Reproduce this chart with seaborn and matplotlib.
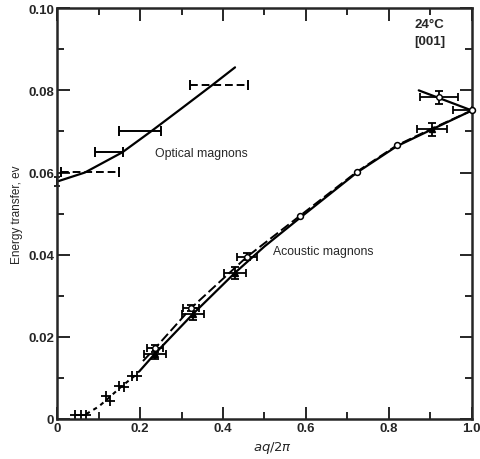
import numpy as np
import pandas as pd
import matplotlib
matplotlib.use("Agg")
import matplotlib.pyplot as plt
import seaborn as sns
from matplotlib.ticker import MultipleLocator

sns.set_style("ticks")
plt.rcParams['font.family'] = ['Liberation Sans', 'DejaVu Sans']

# ---------------- data ----------------
# Optical magnon curve
opt_x = [0.0, 0.067, 0.157, 0.229, 0.30, 0.373, 0.429]
opt_e = [0.0578, 0.0600, 0.0649, 0.0702, 0.0756, 0.0812, 0.0856]
# Optical data (horizontal error bars)
optpt_x = [0.08, 0.125, 0.20, 0.39]
optpt_e = [0.0602, 0.0649, 0.0702, 0.0812]
optpt_xerr = [0.07, 0.033, 0.05, 0.07]

# Acoustic: low-q dotted part
low_x = [0.07, 0.10, 0.123, 0.155, 0.187, 0.20]
low_e = [0.0012, 0.0030, 0.0050, 0.0079, 0.0105, 0.0118]
# small + points
plus_x = [0.043, 0.058, 0.070, 0.118, 0.128, 0.150, 0.161, 0.181, 0.193]
plus_e = [0.0010, 0.0010, 0.0010, 0.0056, 0.0044, 0.0080, 0.0078, 0.0105, 0.0105]

# Acoustic solid curve
sol_x = [0.20, 0.236, 0.328, 0.429, 0.50, 0.586, 0.723, 0.819, 0.904, 1.0]
sol_e = [0.0118, 0.0159, 0.0256, 0.0356, 0.0420, 0.0490, 0.0600, 0.0664, 0.0705, 0.0751]
# Acoustic dashed curve
das_x = [0.207, 0.236, 0.323, 0.458, 0.586, 0.723, 0.819, 0.904, 1.0]
das_e = [0.0141, 0.0172, 0.0270, 0.0395, 0.0495, 0.0602, 0.0666, 0.0707, 0.0751]

# filled points with error bars (solid curve)
fil_x = [0.236, 0.328, 0.429, 0.904]
fil_e = [0.0159, 0.0256, 0.0356, 0.0705]
fil_xerr = [0.027, 0.027, 0.027, 0.036]
fil_yerr = [0.0014, 0.0015, 0.0015, 0.0016]

# open points with error bars (dashed curve)
opn_x = [0.236, 0.323, 0.458, 0.92]
opn_e = [0.0172, 0.0270, 0.0395, 0.0783]
opn_xerr = [0.02, 0.02, 0.025, 0.046]
opn_yerr = [0.0008, 0.0008, 0.0008, 0.0016]
# open points without error bars
circ_x = [0.586, 0.723, 0.819, 1.0]
circ_e = [0.0495, 0.0602, 0.0666, 0.0751]

# upper branch near zone boundary
up_x = [0.872, 1.0]
up_e = [0.0800, 0.0751]

# ---------------- figure ----------------
fig = plt.figure(figsize=(4.8, 4.6), dpi=100)
ax = fig.add_axes([0.119, 0.087, 0.864, 0.893])

k = dict(color='black', legend=False, sort=False, estimator=None, ax=ax)
sns.lineplot(x=opt_x, y=opt_e, lw=1.6, **k)
sns.lineplot(x=low_x, y=low_e, lw=1.5, dashes=False, linestyle=(0, (2, 2)), **k)
sns.lineplot(x=sol_x, y=sol_e, lw=1.6, **k)
sns.lineplot(x=das_x, y=das_e, lw=1.4, linestyle=(0, (5, 2)), **k)
sns.lineplot(x=up_x, y=up_e, lw=1.6, **k)

# optical error bars
for i, (x, e, xe) in enumerate(zip(optpt_x, optpt_e, optpt_xerr)):
    eb = ax.errorbar(x, e, xerr=xe, fmt='none', ecolor='black', elinewidth=1.4,
                     capsize=3.5, capthick=1.4)
    if i in (0, 3):
        eb[2][0].set_linestyle((0, (4, 2)))
# point at q=0
ax.errorbar(0.0, 0.0578, yerr=0.0012, fmt='none', ecolor='black', elinewidth=1.4,
            capsize=2, capthick=1.2, clip_on=False)

# plus points
sns.scatterplot(x=plus_x, y=plus_e, marker='+', s=45, color='black',
                linewidth=1.3, ax=ax, legend=False)

# filled points
ax.errorbar(fil_x, fil_e, xerr=fil_xerr, yerr=fil_yerr, fmt='^', ms=4,
            color='black', ecolor='black', elinewidth=1.3, capsize=3, capthick=1.3)
# open points with bars
ax.errorbar(opn_x, opn_e, xerr=opn_xerr, yerr=opn_yerr, fmt='o', ms=4,
            mfc='white', mec='black', ecolor='black', elinewidth=1.3,
            capsize=3, capthick=1.3)
# half bar at zone boundary
ax.errorbar(1.0, 0.0751, xerr=[[0.045], [0.0]], fmt='none', ecolor='black',
            elinewidth=1.3, capsize=3, capthick=1.3, clip_on=False)
sns.scatterplot(x=circ_x, y=circ_e, marker='o', s=18, facecolor='white',
                edgecolor='black', linewidth=1.1, ax=ax, legend=False, zorder=5,
                clip_on=False)

# ---------------- axes ----------------
ax.set_xlim(0, 1.0)
ax.set_ylim(0, 0.10)
ax.xaxis.set_minor_locator(MultipleLocator(0.1))
ax.yaxis.set_minor_locator(MultipleLocator(0.01))
ax.set_xticks([0, 0.2, 0.4, 0.6, 0.8, 1.0])
ax.set_xticklabels(['0', '0.2', '0.4', '0.6', '0.8', '1.0'])
ax.set_yticks([0, 0.02, 0.04, 0.06, 0.08, 0.10])
ax.set_yticklabels(['0', '0.02', '0.04', '0.06', '0.08', '0.10'])
ax.tick_params(which='both', direction='in', top=True, right=True, width=1.4,
               labelsize=9.5, pad=2)
ax.tick_params(which='major', length=9)
ax.tick_params(which='minor', length=5)
for lab in ax.get_xticklabels() + ax.get_yticklabels():
    lab.set_fontweight('bold')
for sp in ax.spines.values():
    sp.set_linewidth(1.8)
    sp.set_visible(True)

ax.set_ylabel('Energy transfer, ev', fontsize=8.5, labelpad=4)
ax.set_xlabel(r'$\mathbf{\mathit{aq/2\pi}}$', fontsize=9.5)
ax.xaxis.set_label_coords(0.52, -0.048)

ax.text(0.236, 0.0647, 'Optical magnons', fontsize=8.8, va='center', ha='left')
ax.text(0.52, 0.0408, 'Acoustic magnons', fontsize=8.8, va='center', ha='left')
ax.text(0.862, 0.0962, '24°C', fontsize=9.5, fontweight='bold', va='center', ha='left')
ax.text(0.862, 0.0920, '[001]', fontsize=9.5, fontweight='bold', va='center', ha='left')

fig.savefig('out.png', dpi=100)
